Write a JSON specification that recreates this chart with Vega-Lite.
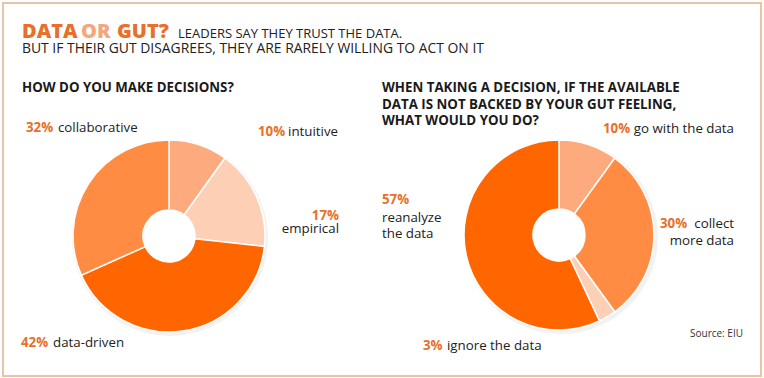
{
  "$schema": "https://vega.github.io/schema/vega-lite/v6.json",
  "width": 764,
  "height": 378,
  "autosize": {"type": "none"},
  "padding": 0,
  "background": "#ffffff",
  "config": {"view": {"stroke": null}},
  "datasets": {
    "decisions": [
      {"option": "intuitive", "pct": 10, "order": 1},
      {"option": "empirical", "pct": 17, "order": 2},
      {"option": "data-driven", "pct": 42, "order": 3},
      {"option": "collaborative", "pct": 32, "order": 4}
    ],
    "conflict": [
      {"option": "go with the data", "pct": 10, "order": 1},
      {"option": "collect more data", "pct": 30, "order": 2},
      {"option": "ignore the data", "pct": 3, "order": 3},
      {"option": "reanalyze the data", "pct": 57, "order": 4}
    ]
  },
  "resolve": {"scale": {"theta": "independent", "color": "independent"}},
  "layer": [
    {"data": {"values": [{}]}, "mark": {"type": "rect", "x": 3, "y": 3, "x2": 761, "y2": 376, "fill": null, "fillOpacity": 0, "stroke": "#ECC3A5", "strokeWidth": 2}},
    {"data": {"name": "decisions"}, "mark": {"type": "arc", "x": 170, "y": 238, "outerRadius": 98, "innerRadius": 80, "fill": "#000000", "opacity": 0.05}, "encoding": {"theta": {"field": "pct", "type": "quantitative", "stack": true}, "order": {"field": "order"}}},
    {"data": {"name": "conflict"}, "mark": {"type": "arc", "x": 561, "y": 237, "outerRadius": 97, "innerRadius": 80, "fill": "#000000", "opacity": 0.05}, "encoding": {"theta": {"field": "pct", "type": "quantitative", "stack": true}, "order": {"field": "order"}}},
    {"data": {"name": "decisions"}, "mark": {"type": "arc", "x": 169, "y": 236, "outerRadius": 96, "innerRadius": 26, "stroke": "#ffffff", "strokeWidth": 1.5},
     "encoding": {"theta": {"field": "pct", "type": "quantitative", "stack": true}, "order": {"field": "order"},
       "color": {"field": "option", "type": "nominal", "legend": null, "scale": {"domain": ["intuitive", "empirical", "data-driven", "collaborative"], "range": ["#FDAB7E", "#FDD0B5", "#FF6600", "#FF8C42"]}}}},
    {"data": {"name": "conflict"}, "mark": {"type": "arc", "x": 559, "y": 235, "outerRadius": 95, "innerRadius": 26, "stroke": "#ffffff", "strokeWidth": 1.5},
     "encoding": {"theta": {"field": "pct", "type": "quantitative", "stack": true}, "order": {"field": "order"},
       "color": {"field": "option", "type": "nominal", "legend": null, "scale": {"domain": ["go with the data", "collect more data", "ignore the data", "reanalyze the data"], "range": ["#FDAB7E", "#FF8C42", "#FDD0B5", "#FF6600"]}}}},

    {"data": {"values": [{}]}, "mark": {"type": "rule", "x": 26, "y": 136, "x2": 143, "y2": 136, "stroke": "#EE9A66", "strokeWidth": 1}, "encoding": {}},
    {"data": {"values": [{}]}, "mark": {"type": "rule", "x": 143, "y": 136, "x2": 143, "y2": 147, "stroke": "#EE9A66", "strokeWidth": 1}, "encoding": {}},
    {"data": {"values": [{}]}, "mark": {"type": "rule", "x": 195, "y": 139, "x2": 339, "y2": 139, "stroke": "#EE9A66", "strokeWidth": 1}, "encoding": {}},
    {"data": {"values": [{}]}, "mark": {"type": "rule", "x": 195, "y": 139, "x2": 195, "y2": 143, "stroke": "#EE9A66", "strokeWidth": 1}, "encoding": {}},
    {"data": {"values": [{}]}, "mark": {"type": "rule", "x": 263, "y": 239, "x2": 339, "y2": 239, "stroke": "#EE9A66", "strokeWidth": 1}, "encoding": {}},
    {"data": {"values": [{}]}, "mark": {"type": "rule", "x": 21, "y": 351, "x2": 130, "y2": 351, "stroke": "#EE9A66", "strokeWidth": 1}, "encoding": {}},
    {"data": {"values": [{}]}, "mark": {"type": "rule", "x": 130, "y": 322, "x2": 130, "y2": 351, "stroke": "#EE9A66", "strokeWidth": 1}, "encoding": {}},
    {"data": {"values": [{}]}, "mark": {"type": "rule", "x": 594, "y": 139, "x2": 736, "y2": 139, "stroke": "#F2B48C", "strokeWidth": 1}, "encoding": {}},
    {"data": {"values": [{}]}, "mark": {"type": "rule", "x": 594, "y": 139, "x2": 594, "y2": 143, "stroke": "#F2B48C", "strokeWidth": 1}, "encoding": {}},
    {"data": {"values": [{}]}, "mark": {"type": "rule", "x": 655, "y": 252, "x2": 736, "y2": 252, "stroke": "#F2B48C", "strokeWidth": 1}, "encoding": {}},
    {"data": {"values": [{}]}, "mark": {"type": "rule", "x": 423, "y": 357, "x2": 606, "y2": 357, "stroke": "#F2B48C", "strokeWidth": 1}, "encoding": {}},
    {"data": {"values": [{}]}, "mark": {"type": "rule", "x": 606, "y": 323, "x2": 606, "y2": 357, "stroke": "#F2B48C", "strokeWidth": 1}, "encoding": {}},
    {"data": {"values": [{}]}, "mark": {"type": "rule", "x": 380, "y": 247, "x2": 465, "y2": 247, "stroke": "#EE9A66", "strokeWidth": 1}, "encoding": {}},

    {"data": {"values": [{}]}, "mark": {"type": "text", "text": "DATA", "x": 22, "y": 38, "align": "left", "baseline": "alphabetic", "font": "Open Sans", "fontSize": 20, "fontWeight": 800, "color": "#E8702A"}},
    {"data": {"values": [{}]}, "mark": {"type": "text", "text": "OR", "x": 81, "y": 38, "align": "left", "baseline": "alphabetic", "font": "Open Sans", "fontSize": 20, "fontWeight": 800, "color": "#F5A67C"}},
    {"data": {"values": [{}]}, "mark": {"type": "text", "text": "GUT?", "x": 117, "y": 38, "align": "left", "baseline": "alphabetic", "font": "Open Sans", "fontSize": 20, "fontWeight": 800, "color": "#E8702A"}},
    {"data": {"values": [{}]}, "mark": {"type": "text", "text": "LEADERS SAY THEY TRUST THE DATA.", "x": 178, "y": 38, "align": "left", "baseline": "alphabetic", "font": "Open Sans", "fontSize": 13, "color": "#222222"}},
    {"data": {"values": [{}]}, "mark": {"type": "text", "text": "BUT IF THEIR GUT DISAGREES, THEY ARE RARELY WILLING TO ACT ON IT", "x": 22, "y": 52.5, "align": "left", "baseline": "alphabetic", "font": "Open Sans", "fontSize": 13.9, "color": "#222222"}},
    {"data": {"values": [{}]}, "mark": {"type": "text", "text": "HOW DO YOU MAKE DECISIONS?", "x": 22, "y": 92, "align": "left", "baseline": "alphabetic", "font": "Open Sans", "fontSize": 13.3, "fontWeight": "bold", "color": "#1a1a1a"}},
    {"data": {"values": [{}]}, "mark": {"type": "text", "text": ["WHEN TAKING A DECISION, IF THE AVAILABLE", "DATA IS NOT BACKED BY YOUR GUT FEELING,", "WHAT WOULD YOU DO?"], "lineHeight": 16.5, "x": 382, "y": 92, "align": "left", "baseline": "alphabetic", "font": "Open Sans", "fontSize": 13.3, "fontWeight": "bold", "color": "#1a1a1a"}},

    {"data": {"values": [{}]}, "mark": {"type": "text", "text": "32%", "x": 26, "y": 132, "align": "left", "baseline": "alphabetic", "font": "Open Sans", "fontSize": 13.3, "fontWeight": "bold", "color": "#E8702A"}},
    {"data": {"values": [{}]}, "mark": {"type": "text", "text": "collaborative", "x": 58, "y": 132, "align": "left", "baseline": "alphabetic", "font": "Open Sans", "fontSize": 13.3, "color": "#222222"}},
    {"data": {"values": [{}]}, "mark": {"type": "text", "text": "10%", "x": 258, "y": 135.5, "align": "left", "baseline": "alphabetic", "font": "Open Sans", "fontSize": 13.3, "fontWeight": "bold", "color": "#E8702A"}},
    {"data": {"values": [{}]}, "mark": {"type": "text", "text": "intuitive", "x": 338, "y": 135.5, "align": "right", "baseline": "alphabetic", "font": "Open Sans", "fontSize": 13.3, "color": "#222222"}},
    {"data": {"values": [{}]}, "mark": {"type": "text", "text": "17%", "x": 339, "y": 219.5, "align": "right", "baseline": "alphabetic", "font": "Open Sans", "fontSize": 13.3, "fontWeight": "bold", "color": "#E8702A"}},
    {"data": {"values": [{}]}, "mark": {"type": "text", "text": "empirical", "x": 339, "y": 233, "align": "right", "baseline": "alphabetic", "font": "Open Sans", "fontSize": 13.3, "color": "#222222"}},
    {"data": {"values": [{}]}, "mark": {"type": "text", "text": "42%", "x": 21, "y": 346.5, "align": "left", "baseline": "alphabetic", "font": "Open Sans", "fontSize": 13.3, "fontWeight": "bold", "color": "#E8702A"}},
    {"data": {"values": [{}]}, "mark": {"type": "text", "text": "data-driven", "x": 53, "y": 346.5, "align": "left", "baseline": "alphabetic", "font": "Open Sans", "fontSize": 13.3, "color": "#222222"}},

    {"data": {"values": [{}]}, "mark": {"type": "text", "text": "10%", "x": 603, "y": 132.5, "align": "left", "baseline": "alphabetic", "font": "Open Sans", "fontSize": 13.3, "fontWeight": "bold", "color": "#E8702A"}},
    {"data": {"values": [{}]}, "mark": {"type": "text", "text": "go with the data", "x": 734, "y": 132.5, "align": "right", "baseline": "alphabetic", "font": "Open Sans", "fontSize": 13.3, "color": "#222222"}},
    {"data": {"values": [{}]}, "mark": {"type": "text", "text": "30%", "x": 660, "y": 228, "align": "left", "baseline": "alphabetic", "font": "Open Sans", "fontSize": 13.3, "fontWeight": "bold", "color": "#E8702A"}},
    {"data": {"values": [{}]}, "mark": {"type": "text", "text": "collect", "x": 734, "y": 228, "align": "right", "baseline": "alphabetic", "font": "Open Sans", "fontSize": 13.3, "color": "#222222"}},
    {"data": {"values": [{}]}, "mark": {"type": "text", "text": "more data", "x": 734, "y": 245, "align": "right", "baseline": "alphabetic", "font": "Open Sans", "fontSize": 13.3, "color": "#222222"}},
    {"data": {"values": [{}]}, "mark": {"type": "text", "text": "3%", "x": 423, "y": 350, "align": "left", "baseline": "alphabetic", "font": "Open Sans", "fontSize": 13.3, "fontWeight": "bold", "color": "#E8702A"}},
    {"data": {"values": [{}]}, "mark": {"type": "text", "text": "ignore the data", "x": 447, "y": 350, "align": "left", "baseline": "alphabetic", "font": "Open Sans", "fontSize": 13.3, "color": "#222222"}},
    {"data": {"values": [{}]}, "mark": {"type": "text", "text": "57%", "x": 382, "y": 204, "align": "left", "baseline": "alphabetic", "font": "Open Sans", "fontSize": 13.3, "fontWeight": "bold", "color": "#E8702A"}},
    {"data": {"values": [{}]}, "mark": {"type": "text", "text": ["reanalyze", "the data"], "lineHeight": 16, "x": 382, "y": 221.5, "align": "left", "baseline": "alphabetic", "font": "Open Sans", "fontSize": 13.3, "color": "#222222"}},
    {"data": {"values": [{}]}, "mark": {"type": "text", "text": "Source: EIU", "x": 743, "y": 336.5, "align": "right", "baseline": "alphabetic", "font": "Open Sans", "fontSize": 10, "color": "#333333"}}
  ]
}
